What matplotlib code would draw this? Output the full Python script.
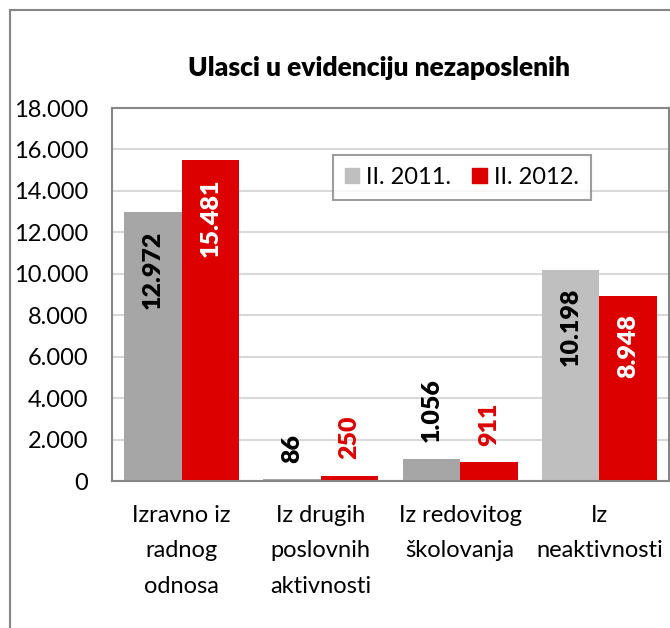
import numpy as np
import matplotlib
matplotlib.use('Agg')
import matplotlib.pyplot as plt
from matplotlib.patches import Rectangle

plt.rcParams['font.family'] = ['Lato', 'DejaVu Sans']

categories = ['Izravno iz\nradnog\nodnosa', 'Iz drugih\nposlovnih\naktivnosti',
              'Iz redovitog\nškolovanja', 'Iz\nneaktivnosti']
series_names = ['II. 2011.', 'II. 2012.']
values_2011 = [12972, 86, 1056, 10198]
values_2012 = [15481, 250, 911, 8948]
yticks = list(range(0, 18001, 2000))

GRAY = '#A6A6A6'
GRAY_LIGHT = '#BFBFBF'
RED = '#DD0000'
EDGE = '#868686'


def fmt(v):
    return f"{v:,}".replace(',', '.')


fig = plt.figure(figsize=(6.7, 6.28), dpi=100)
ax = fig.add_axes([0.167, 0.234, 0.8315, 0.594])

x = np.arange(len(categories))
w = 0.413
gray_colors = [GRAY, GRAY, GRAY, GRAY_LIGHT]
b1 = ax.bar(x - w / 2, values_2011, w, color=gray_colors, zorder=2)
b2 = ax.bar(x + w / 2, values_2012, w, color=RED, zorder=2)

# data labels: inside end for tall bars, outside end for short ones
for bars, vals, in_col, out_col in ((b1, values_2011, 'black', 'black'),
                                    (b2, values_2012, 'white', RED)):
    for b, v in zip(bars, vals):
        cx = b.get_x() + b.get_width() / 2
        if v > 5000:
            ax.annotate(fmt(v), (cx, v), xytext=(0, -13), textcoords='offset points',
                        rotation=90, ha='center', va='top', color=in_col,
                        fontsize=18, fontweight='heavy', zorder=3)
        else:
            ax.annotate(fmt(v), (cx, v), xytext=(0, 12), textcoords='offset points',
                        rotation=90, ha='center', va='bottom', color=out_col,
                        fontsize=18, fontweight='heavy', zorder=3)

ax.set_xlim(-0.5, len(categories) - 0.5)
ax.set_ylim(0, 18000)
ax.set_yticks(yticks)
ax.set_yticklabels([fmt(t) for t in yticks], fontsize=17)
ax.set_xticks(x)
ax.set_xticklabels(categories, fontsize=17, linespacing=1.85)
ax.tick_params(axis='both', length=0)
ax.tick_params(axis='y', pad=17)
ax.tick_params(axis='x', pad=17)
ax.yaxis.grid(True, color='#D9D9D9', linewidth=1.5, zorder=0)
ax.set_axisbelow(True)
for s in ax.spines.values():
    s.set_color(EDGE)
    s.set_linewidth(1.5)

leg_handles = [Rectangle((0, 0), 1, 1, color=GRAY_LIGHT), Rectangle((0, 0), 1, 1, color=RED)]
leg = ax.legend(leg_handles, series_names, loc='upper left', bbox_to_anchor=(0.397, 0.874),
                borderaxespad=0, ncol=2, fontsize=17, frameon=True, fancybox=False,
                handlelength=0.6, handleheight=0.6, handletextpad=0.3, columnspacing=0.9,
                borderpad=0.5, edgecolor=EDGE)
leg.get_frame().set_linewidth(1.5)

fig.text(0.565, 0.892, 'Ulasci u evidenciju nezaposlenih', ha='center', va='center',
         fontsize=19, fontweight='heavy')

# outer chart border
fig.patches.append(Rectangle((10 / 670, -0.1), 1.2, 1 - 10 / 628 + 0.1,
                             transform=fig.transFigure, fill=False,
                             edgecolor=EDGE, linewidth=1.5))

fig.savefig('out.png', dpi=100)
